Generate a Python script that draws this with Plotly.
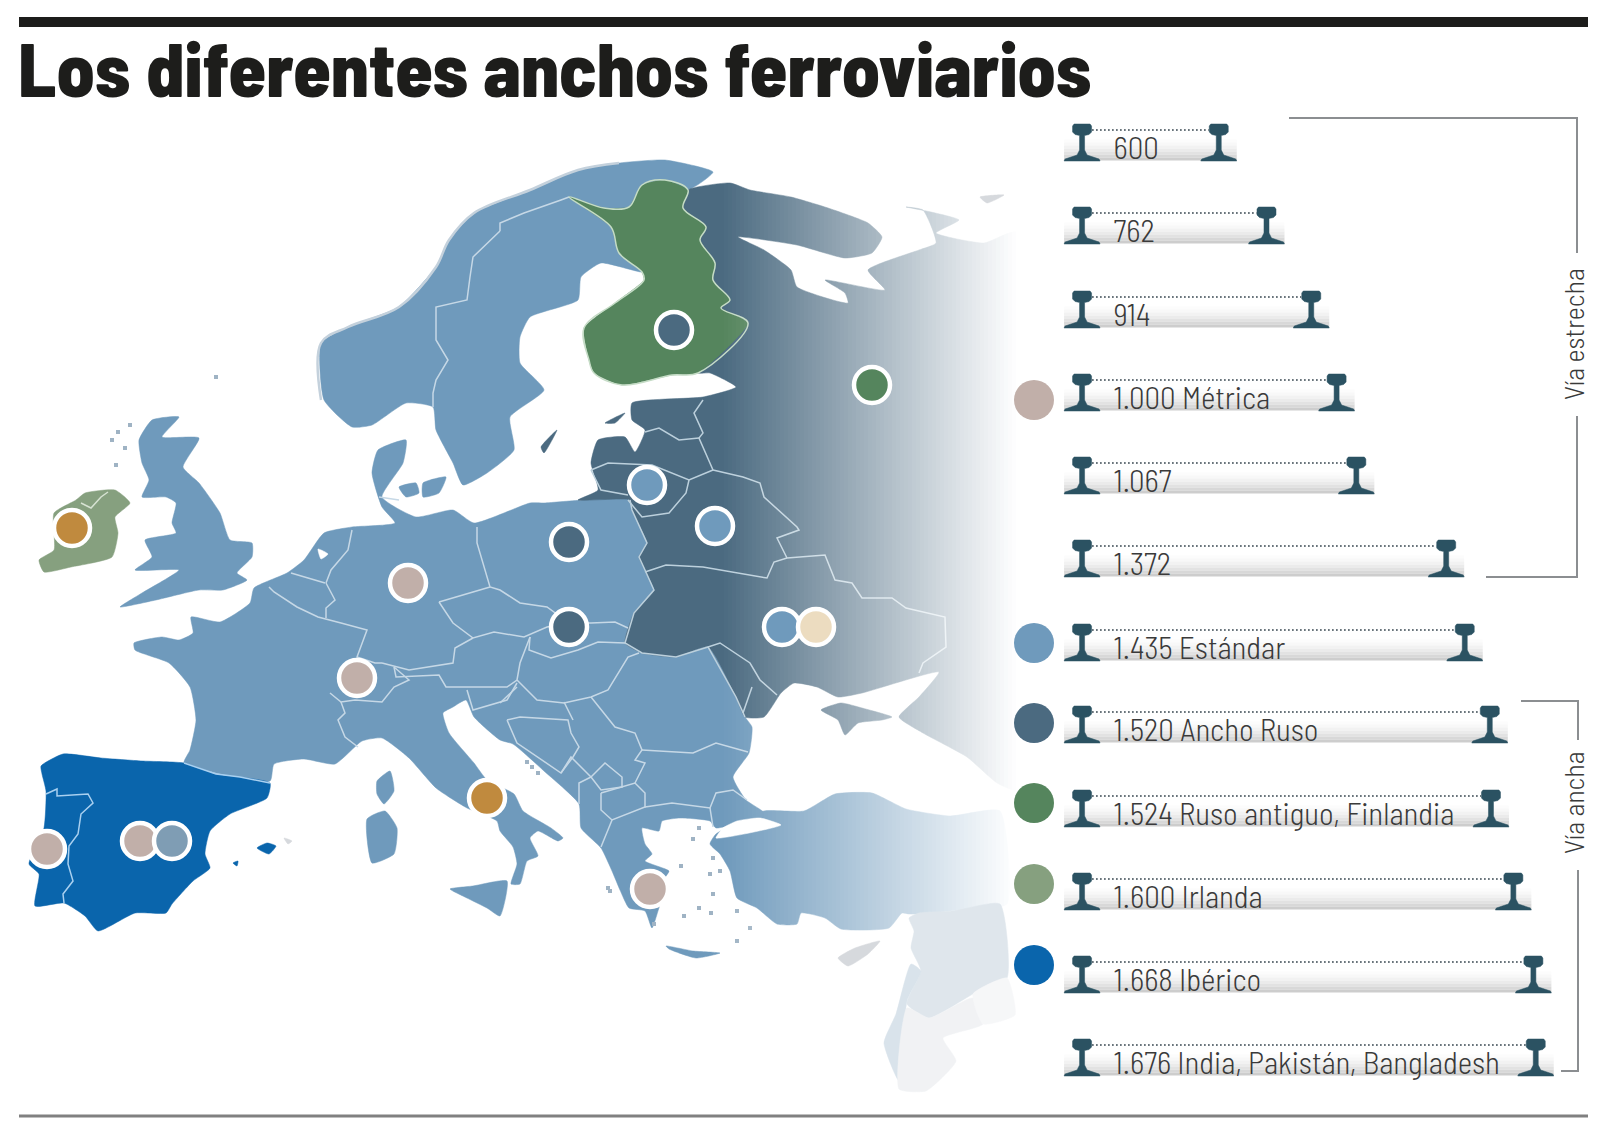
"""Los diferentes anchos ferroviarios: map of Europe plus a rail gauge ladder, drawn on pixel-like axes."""

import numpy as np
import plotly.graph_objects as go

TITLE = "Los diferentes anchos ferroviarios"
TITLE_FONT = "Barlow Semi Condensed, Roboto, sans-serif"
LABEL_FONT = "Barlow Semi Condensed, Roboto, sans-serif"

# gauge ladder
GAUGES_MM = [600, 762, 914, 1000, 1067, 1372, 1435, 1520, 1524, 1600, 1668, 1676]
GAUGE_LABELS = [
    "600", "762", "914", "1.000 Métrica", "1.067", "1.372", "1.435 Estándar", "1.520 Ancho Ruso",
    "1.524 Ruso antiguo, Finlandia", "1.600 Irlanda", "1.668 Ibérico", "1.676 India, Pakistán, Bangladesh",
]
ROW_TOPS = [124, 207, 291, 374, 457, 540, 624, 706, 790, 873, 956, 1039]

# legend dots: value colours
C_METRICA = "#c1afa9"
C_ESTANDAR = "#6f9abc"
C_RUSO = "#4b6a80"
C_ANTIGUO = "#55855d"
C_IRLANDA = "#86a07f"
C_IBERICO = "#0a65ac"
C_ORANGE = "#c08a3e"
C_CREAM = "#ecdcc0"
LEGEND_X = [1034, 1034, 1034, 1034, 1034, 1034]
LEGEND_Y = [400, 643, 723, 803, 884, 965]
LEGEND_COLORS = [C_METRICA, C_ESTANDAR, C_RUSO, C_ANTIGUO, C_IRLANDA, C_IBERICO]

# dots on the map
DOT_X = [674, 872, 647, 715, 569, 569, 782, 816, 408, 357, 487, 140, 172, 47, 650, 72]
DOT_Y = [330, 385, 485, 526, 542, 627, 627, 627, 583, 678, 798, 841, 841, 849, 889, 528]
DOT_COLORS = [C_RUSO, C_ANTIGUO, C_ESTANDAR, C_ESTANDAR, C_RUSO, C_RUSO, C_ESTANDAR, C_CREAM,
              C_METRICA, C_METRICA, C_ORANGE, C_METRICA, "#7f9db4", C_METRICA, C_METRICA, C_ORANGE]

# land outlines
SCANDINAVIA = [(321,343),(348,327),(399,307),(436,267),(449,240),(474,213),(530,190),(578,170),(619,163),(665,160),(713,172),(688,190),(665,180),(642,185),(629,207),(604,208),(569,197),(611,227),(619,253),(642,272),(601,263),(581,277),(578,300),(530,317),(520,337),(520,363),(544,390),(510,417),(514,450),(487,473),(463,485),(453,463),(436,430),(433,407),(406,403),(372,425),(352,427),(324,400)]
FINLAND = [(569,197),(604,208),(629,207),(642,185),(665,180),(688,190),(683,208),(706,227),(700,240),(715,263),(713,280),(730,300),(721,308),(748,323),(698,373),(672,375),(622,385),(594,373),(589,360),(584,328),(615,303),(644,280),(642,272),(619,253),(611,227)]
RUSSIA_BLOCK = [(698,373),(748,323),(721,308),(730,300),(713,280),(715,263),(700,240),(706,227),(683,208),(688,190),(730,183),(750,190),(791,197),(828,208),(868,223),(882,237),(872,253),(845,258),(797,245),(738,237),(764,250),(791,270),(797,287),(848,303),(845,293),(825,280),(885,290),(868,270),(919,250),(936,243),(923,210),(906,207),(931,212),(959,220),(936,233),(984,243),(1017,232),(1017,790),(997,783),(967,757),(923,733),(899,717),(919,697),(939,672),(862,693),(838,697),(817,687),(794,683),(781,693),(764,717),(745,717),(736,697),(708,647),(676,657),(642,653),(625,643),(634,613),(654,590),(645,570),(639,557),(647,543),(632,510),(630,500),(578,500),(598,490),(591,463),(598,440),(625,437),(635,452),(645,430),(632,420),(632,403),(703,397),(736,387),(710,373)]
CRIMEA = [(821,710),(841,703),(862,708),(892,717),(882,720),(858,723),(845,735),(838,720)]
SAAREMAA = [(605,423),(625,413),(615,423)]
CONTINENT = [(134,643),(162,637),(179,640),(193,633),(191,617),(220,622),(250,603),(254,588),(287,573),(304,560),(324,533),(352,527),(395,523),(382,507),(372,473),(378,450),(406,440),(403,463),(382,497),(416,517),(453,510),(474,523),(530,503),(544,503),(584,500),(630,500),(647,543),(654,590),(634,613),(625,643),(642,653),(676,657),(708,647),(736,697),(745,717),(752,727),(749,753),(733,777),(746,800),(764,813),(716,828),(710,821),(680,818),(662,821),(659,831),(642,828),(645,844),(652,854),(645,861),(669,871),(665,878),(669,888),(660,905),(652,928),(645,911),(629,908),(620,890),(612,871),(601,848),(581,828),(579,804),(544,771),(513,744),(500,740),(474,717),(466,700),(453,707),(443,713),(449,733),(474,763),(487,780),(514,794),(523,811),(551,828),(563,838),(558,841),(538,831),(530,838),(538,856),(527,861),(520,884),(511,884),(517,864),(513,847),(500,831),(497,821),(467,808),(436,788),(409,758),(382,738),(362,741),(335,764),(304,759),(274,764),(270,781),(184,763),(190,750),(196,720),(190,687),(169,663),(135,650)]
TURKEY = [(716,834),(764,811),(804,811),(835,794),(872,793),(906,809),(950,816),(1000,811),(1007,904),(950,911),(919,914),(909,914),(902,913),(889,928),(841,929),(825,918),(801,913),(797,924),(777,924),(757,908),(737,898),(730,871),(720,854),(710,844)]
MARMARA = [(781,825),(716,838),(723,828),(737,821),(760,818)]
IJSSELMEER = [(318,549),(328,554),(321,559)]
IBERIA = [(41,766),(63,754),(101,758),(142,761),(184,763),(216,774),(270,783),(267,798),(230,814),(210,831),(205,854),(210,868),(193,881),(172,904),(166,913),(135,913),(98,931),(85,916),(64,903),(35,906),(39,874),(29,864),(44,828),(46,791),(42,774)]
MALLORCA = [(257,848),(267,843),(276,846),(269,854)]
IBIZA = [(233,863),(238,861),(237,866)]
BRITAIN = [(152,420),(179,417),(162,437),(199,438),(183,467),(199,483),(220,513),(230,540),(252,543),(252,557),(237,573),(247,580),(223,590),(199,590),(156,600),(120,607),(142,593),(179,570),(135,570),(152,557),(145,540),(176,533),(172,523),(176,503),(166,497),(142,497),(149,480),(142,463),(139,440)]
IRELAND = [(76,500),(85,493),(115,490),(130,503),(115,517),(118,533),(112,557),(71,567),(44,572),(39,560),(54,550),(54,513)]
CORSICA = [(377,781),(390,771),(394,791),(384,804),(377,794)]
SARDINIA = [(367,819),(385,811),(397,828),(394,854),(372,863)]
SICILY = [(450,889),(473,886),(507,881),(500,916),(487,908),(467,898)]
CRETE = [(666,946),(693,951),(720,953),(696,958),(669,949)]
ZEALAND = [(423,483),(446,477),(439,493),(423,497)]
FYN = [(399,487),(416,483),(419,493),(406,497)]
GOTLAND = [(541,447),(557,430),(544,453)]

# pale shapes east of the fade
PALE_SHAPES = {
    "#dfe6ec": [[(909,918),(919,913),(953,911),(1000,904),(1007,978),(973,994),(929,1018),(907,1004),(921,971),(911,948),(914,931)]],
    "#d9e3eb": [[(911,964),(921,971),(907,1001),(899,1081),(884,1043),(896,1014)]],
    "#f1f2f4": [[(907,1008),(929,1018),(973,998),(983,1024),(943,1038),(956,1061),(926,1091),(899,1089)]],
    "#f6f7f8": [[(973,994),(1007,978),(1015,1015),(983,1024)]],
    "#d6d9dd": [[(838,958),(855,948),(880,941),(868,954),(848,966)], [(980,197),(1004,195),(987,203)], [(284,838),(292,841),(288,844)]],
}

BORDERS = [
    [(500,231),(473,257),(470,277),(467,300),(436,307),(436,340),(448,360),(436,380),(433,393),(433,407)],
    [(569,197),(561,200),(524,213),(500,223),(500,231)],
    [(379,497),(399,500)],
    [(477,527),(477,543),(490,587),(500,590),(520,603),(547,607),(569,623),(591,623),(615,622),(628,628)],
    [(439,602),(490,587)],
    [(439,602),(453,623),(473,638),(494,632),(524,637),(547,627),(569,623)],
    [(530,637),(529,650),(551,658),(578,650),(598,642),(625,643)],
    [(473,638),(455,648),(453,663),(409,670),(382,663)],
    [(394,667),(396,677),(439,675),(446,687),(507,687),(517,680),(520,663),(530,637)],
    [(517,680),(537,700),(564,703),(591,697),(608,690),(628,657),(639,653)],
    [(467,690),(473,710),(507,700),(517,683)],
    [(517,687),(500,703)],
    [(507,720),(520,717),(568,720),(571,733),(579,747),(573,757),(561,773),(517,743),(507,720)],
    [(564,702),(573,720)],
    [(591,697),(615,727),(635,733),(642,750),(635,760),(645,763),(635,783)],
    [(591,777),(605,763),(622,777),(622,787),(601,790),(591,777)],
    [(561,773),(571,757),(591,777),(579,783),(579,804)],
    [(601,793),(601,810),(612,820),(645,807),(645,793),(635,783),(601,793)],
    [(612,820),(601,847)],
    [(642,750),(693,753),(716,743),(748,752)],
    [(645,807),(672,803),(710,808),(716,793),(733,790),(747,800)],
    [(710,808),(713,827)],
    [(352,530),(348,550),(331,570),(326,583)],
    [(291,573),(325,583)],
    [(269,587),(274,592),(297,607),(318,617),(341,623),(367,630),(357,657),(375,663),(382,663)],
    [(326,583),(335,600),(326,608),(326,618)],
    [(330,693),(341,702),(355,700),(382,702),(394,687),(409,680),(394,667)],
    [(341,702),(345,713),(338,720),(345,737),(358,747)],
]
DARK_BORDERS = [
    [(645,432),(659,428),(679,440),(699,438)],
    [(703,400),(694,413),(703,433),(699,438),(713,470)],
    [(591,470),(608,463),(652,465),(689,480),(713,470)],
    [(591,470),(601,490),(628,495)],
    [(628,500),(642,517),(669,513),(686,493),(689,480)],
    [(713,470),(743,477),(760,483),(764,497),(797,527),(799,530),(777,538),(787,558)],
    [(645,572),(666,565),(703,567),(737,573),(767,578),(774,562),(787,558)],
    [(787,558),(825,555),(835,580),(852,583),(862,598),(892,598),(906,608),(945,617),(946,647),(923,663),(919,673)],
    [(708,647),(720,643),(750,663),(760,680),(777,695)],
    [(752,687),(743,713)],
    [(630,500),(632,510),(647,543),(639,557),(645,570),(654,590),(634,613),(625,643),(642,653),(676,657),(708,647),(736,697),(745,717)],
]
PORTUGAL_BORDER = [(46,794),(57,789),(57,796),(88,794),(93,803),(81,814),(78,834),(69,846),(68,864),(73,881),(63,894),(64,903)]
PYRENEES = [(184,763),(216,774),(240,777),(270,783)]
ULSTER_BORDER = [(81,503),(91,508),(101,497),(108,492)]

# pale fringe of small islands
FRINGE_NORWAY = [(321,400),(321,343),(348,327),(399,307),(436,267),(449,240),(474,213),(530,190),(578,170),(619,163)]
ISLET_X = [699,693,713,681,710,720,713,699,711,684,737,750,737,608,610,654,527,532,538,112,118,125,130,116,216]
ISLET_Y = [828,839,858,866,874,871,894,908,913,916,911,928,941,888,891,924,762,767,773,440,432,448,425,465,377]

# brackets
BRACKET_STRAIT = [(1289,118),(1577,118),(1577,253),None,(1577,416),(1577,577),(1486,577)]
BRACKET_WIDE = [(1521,701),(1578,701),(1578,740),None,(1578,870),(1578,1071),(1561,1071)]

# rail drawing constants (px)
PX_PER_MM = 0.2946
MM_ZERO_PX = 1042
LEFT_RAIL_MM = 136
LABEL_MM = 243
RAIL_GLYPH = [(-8,0),(8,0),(9.5,2),(9.5,8),(7,10.5),(2.5,11.5),(2.5,26),(5,31),(17,35),(18,37),(-18,37),(-17,35),(-5,31),(-2.5,26),(-2.5,11.5),(-7,10.5),(-9.5,8),(-9.5,2)]
BAR_SHADES = ["#ffffff", "#fcfcfc", "#f8f8f8", "#f2f2f2", "#ebebeb", "#e2e2e2", "#d8d8d8", "#cdcdcd"]


def unzip(points):
    xs, ys = [], []
    for p in points:
        if p is None:
            xs.append(None)
            ys.append(None)
        else:
            xs.append(p[0])
            ys.append(p[1])
    return xs, ys


def add_land(fig, polys, color):
    for pts in polys:
        xs, ys = unzip(pts)
        fig.add_trace(go.Scatter(x=xs + xs[:1], y=ys + ys[:1], mode="lines", fill="toself", fillcolor=color,
                                 line=dict(color=color, width=0.5, shape="spline", smoothing=0.5), hoverinfo="skip"))


def add_lines(fig, lines, color, width, shape="linear"):
    xs, ys = [], []
    for pts in lines:
        a, b = unzip(pts)
        xs += a + [None]
        ys += b + [None]
    fig.add_trace(go.Scatter(x=xs, y=ys, mode="lines", line=dict(color=color, width=width, shape=shape), hoverinfo="skip"))


def add_rails(fig):
    # horizontal shadow bar under each label, built from thin stacked lines
    right_edge = [g + 18 / PX_PER_MM for g in GAUGES_MM]
    left_edge = LEFT_RAIL_MM - 18 / PX_PER_MM
    for i, shade in enumerate(BAR_SHADES):
        xs, ys = [], []
        for top, right in zip(ROW_TOPS, right_edge):
            yy = top + 14 + i * 3
            xs += [left_edge, right, None]
            ys += [yy, yy, None]
        fig.add_trace(go.Scatter(x=xs, y=ys, xaxis="x2", mode="lines", line=dict(color=shade, width=3.2), hoverinfo="skip"))

    # dotted gauge line between the rail heads
    xs, ys = [], []
    for g, top in zip(GAUGES_MM, ROW_TOPS):
        xs += [LEFT_RAIL_MM + 10 / PX_PER_MM, g - 10 / PX_PER_MM, None]
        ys += [top + 6, top + 6, None]
    fig.add_trace(go.Scatter(x=xs, y=ys, xaxis="x2", mode="lines",
                             line=dict(color="#2a3a44", width=1.6, dash="1.6px 2.4px"), hoverinfo="skip"))

    # rail profiles
    xs, ys = [], []
    for g, top in zip(GAUGES_MM, ROW_TOPS):
        for centre in (LEFT_RAIL_MM, g):
            xs += [centre + dx / PX_PER_MM for dx, _ in RAIL_GLYPH] + [centre + RAIL_GLYPH[0][0] / PX_PER_MM, None]
            ys += [top + dy for _, dy in RAIL_GLYPH] + [top + RAIL_GLYPH[0][1], None]
    fig.add_trace(go.Scatter(x=xs, y=ys, xaxis="x2", mode="lines", fill="toself", fillcolor="#2b5262",
                             line=dict(color="#2b5262", width=0.5), hoverinfo="skip"))


fig = go.Figure()

add_land(fig, [SCANDINAVIA, CONTINENT, BRITAIN, TURKEY, CORSICA, SARDINIA, SICILY, CRETE, ZEALAND, FYN], C_ESTANDAR)
add_land(fig, [MARMARA, IJSSELMEER], "#ffffff")
add_land(fig, [RUSSIA_BLOCK, CRIMEA, SAAREMAA, GOTLAND], C_RUSO)
add_land(fig, [FINLAND], C_ANTIGUO)
add_land(fig, [IRELAND], C_IRLANDA)
add_land(fig, [IBERIA, MALLORCA, IBIZA], C_IBERICO)

add_lines(fig, [FRINGE_NORWAY], "#c4d1dc", 2.5, "spline")
fig.add_trace(go.Scatter(x=ISLET_X, y=ISLET_Y, mode="markers", marker=dict(color="#9fb3c4", size=4, symbol="square"), hoverinfo="skip"))
add_lines(fig, BORDERS, "#c6d8e6", 1.5)
add_lines(fig, DARK_BORDERS, "#bcd0dc", 1.5)
add_lines(fig, [FINLAND + FINLAND[:1]], "#c5dcc6", 1.5, "spline")
add_lines(fig, [ULSTER_BORDER], "#d6e2d2", 1.5)
add_lines(fig, [PORTUGAL_BORDER, PYRENEES], "#a9d0f0", 1.5)

# eastward fade: white strips with growing opacity over the land, solid white past the
# point where the smoothed Russia outline can overshoot
for x0 in np.arange(720, 1048, 4):
    alpha = min(1.0, (x0 - 720) / 295)
    fig.add_trace(go.Scatter(x=[x0, x0 + 4, x0 + 4, x0, x0], y=[130, 130, 1100, 1100, 130], mode="lines", fill="toself",
                             fillcolor=f"rgba(255,255,255,{alpha:.3f})", line=dict(width=0), hoverinfo="skip"))

for color, polys in PALE_SHAPES.items():
    add_land(fig, polys, color)

# dots on the map and in the legend
fig.add_trace(go.Scatter(x=DOT_X, y=DOT_Y, mode="markers", hoverinfo="skip",
                         marker=dict(color=DOT_COLORS, size=36, line=dict(color="#ffffff", width=4.5))))
fig.add_trace(go.Scatter(x=LEGEND_X, y=LEGEND_Y, mode="markers", hoverinfo="skip",
                         marker=dict(color=LEGEND_COLORS, size=40)))

add_rails(fig)

fig.add_trace(go.Scatter(x=[LABEL_MM] * len(GAUGE_LABELS), y=[t + 27 for t in ROW_TOPS], xaxis="x2", mode="text",
                         text=GAUGE_LABELS, textposition="middle right", hoverinfo="skip",
                         textfont=dict(family=LABEL_FONT, size=31, color="#3a3a3a", weight=300)))

add_lines(fig, [BRACKET_STRAIT, BRACKET_WIDE], "#8b8e91", 2)
add_lines(fig, [[(19,22),(1588,22)]], "#1d1d1b", 10)
add_lines(fig, [[(19,1116),(1588,1116)]], "#808080", 3)

fig.add_annotation(x=16, y=66, xref="x", yref="y", text=TITLE, showarrow=False, xanchor="left", yanchor="middle",
                   font=dict(family=TITLE_FONT, size=76, color="#1d1d1b", weight=800))
for text, yc in (("Vía estrecha", 334), ("Vía ancha", 803)):
    fig.add_annotation(x=1573, y=yc, xref="x", yref="y", text=text, showarrow=False, textangle=-90,
                       font=dict(family=LABEL_FONT, size=28, color="#3a3a3a", weight=300))

fig.update_layout(
    width=1600,
    height=1131,
    margin=dict(l=0, r=0, t=0, b=0),
    paper_bgcolor="#ffffff",
    plot_bgcolor="#ffffff",
    showlegend=False,
    xaxis=dict(range=[0, 1600], visible=False, fixedrange=True),
    yaxis=dict(range=[1131, 0], visible=False, fixedrange=True),
    # second x axis in millimetres so the rail spacing is set by the gauge itself
    xaxis2=dict(range=[-MM_ZERO_PX / PX_PER_MM, (1600 - MM_ZERO_PX) / PX_PER_MM], overlaying="x", visible=False, fixedrange=True),
)

fig.write_html("out.html", config=dict(displayModeBar=False), post_script="document.body.style.margin='0';")
